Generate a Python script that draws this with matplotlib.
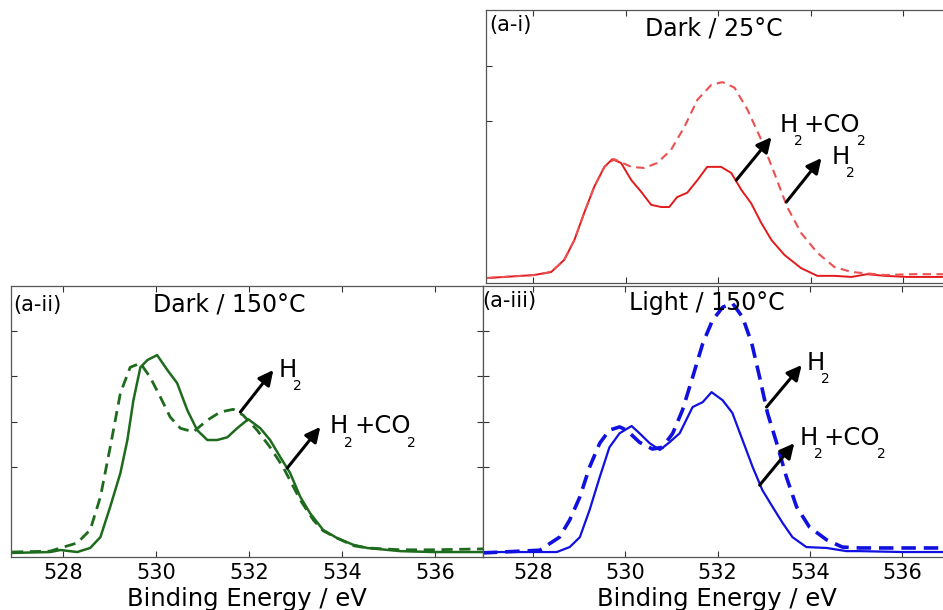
import matplotlib
matplotlib.use("Agg")
import matplotlib.pyplot as plt

plt.rcParams['font.family'] = ['DejaVu Sans']

# ---------------- data ----------------
# (a-i) Dark / 25 C  -- red
ai_h2co2_E = [527.0, 528.02, 528.39, 528.67, 528.89, 529.10, 529.32, 529.54, 529.71, 529.90, 530.12,
              530.34, 530.55, 530.77, 530.94, 531.11, 531.33, 531.55, 531.76, 532.06, 532.28, 532.50,
              532.71, 532.93, 533.15, 533.43, 533.79, 534.14, 534.51, 534.88, 535.22, 535.59, 536.09, 537.0]
ai_h2co2_I = [0.09, 0.145, 0.20, 0.42, 0.78, 1.27, 1.75, 2.11, 2.25, 2.18, 1.87,
              1.65, 1.42, 1.38, 1.38, 1.56, 1.64, 1.87, 2.11, 2.11, 2.00, 1.69,
              1.45, 1.09, 0.78, 0.51, 0.27, 0.13, 0.13, 0.11, 0.16, 0.13, 0.11, 0.11]
ai_h2_E = [527.0, 528.02, 528.39, 528.67, 528.89, 529.10, 529.32, 529.54, 529.75, 530.12, 530.40,
           530.68, 530.98, 531.27, 531.55, 531.85, 532.09, 532.35, 532.63, 532.93, 533.21, 533.49,
           533.79, 534.14, 534.51, 534.88, 535.59, 536.2, 537.0]
ai_h2_I = [0.09, 0.145, 0.20, 0.42, 0.78, 1.27, 1.75, 2.11, 2.25, 2.11, 2.09,
           2.18, 2.42, 2.84, 3.33, 3.60, 3.65, 3.55, 3.15, 2.60, 2.00, 1.38,
           0.91, 0.55, 0.29, 0.20, 0.145, 0.16, 0.16]

# (a-ii) Dark / 150 C  -- green
aii_h2co2_E = [526.9, 527.72, 527.94, 528.30, 528.58, 528.80, 529.01, 529.23, 529.38, 529.51, 529.66,
               529.81, 530.02, 530.24, 530.45, 530.67, 530.88, 531.10, 531.31, 531.53, 531.74, 531.98,
               532.24, 532.45, 532.67, 532.88, 533.10, 533.31, 533.59, 533.89, 534.24, 534.54, 535.25,
               535.96, 537.03]
aii_h2co2_I = [0.09, 0.11, 0.155, 0.11, 0.20, 0.44, 1.11, 1.86, 2.59, 3.47, 4.20,
               4.36, 4.47, 4.14, 3.85, 3.25, 2.81, 2.59, 2.59, 2.65, 2.85, 3.05,
               2.85, 2.59, 2.21, 1.86, 1.33, 0.97, 0.60, 0.42, 0.27, 0.20, 0.13,
               0.11, 0.11]
aii_h2_E = [526.9, 527.72, 527.94, 528.30, 528.58, 528.80, 529.01, 529.23, 529.44, 529.66, 529.87,
            530.09, 530.30, 530.52, 530.80, 531.10, 531.38, 531.66, 531.87, 532.17, 532.45, 532.73,
            533.10, 533.38, 533.59, 533.89, 534.24, 534.54, 535.25, 535.96, 537.03]
aii_h2_I = [0.11, 0.13, 0.20, 0.31, 0.60, 1.33, 2.43, 3.63, 4.20, 4.29, 3.98,
            3.54, 3.10, 2.85, 2.77, 3.03, 3.21, 3.27, 3.14, 2.81, 2.43, 1.99,
            1.26, 0.82, 0.58, 0.42, 0.25, 0.20, 0.16, 0.16, 0.18]

# (a-iii) Light / 150 C  -- blue
aiii_h2co2_E = [526.92, 528.22, 528.52, 528.80, 529.02, 529.23, 529.45, 529.66, 529.88, 530.14, 530.31,
                530.53, 530.75, 530.96, 531.18, 531.46, 531.68, 531.87, 532.11, 532.32, 532.54, 532.76,
                532.97, 533.19, 533.41, 533.62, 533.92, 534.36, 534.79, 535.07, 536.0, 537.03]
aiii_h2co2_I = [0.11, 0.11, 0.11, 0.22, 0.44, 1.04, 1.77, 2.43, 2.74, 2.90, 2.74,
                2.52, 2.37, 2.54, 2.74, 3.32, 3.43, 3.65, 3.47, 3.19, 2.59, 1.99,
                1.48, 1.11, 0.75, 0.44, 0.22, 0.20, 0.13, 0.13, 0.11, 0.11]
aiii_h2_E = [526.92, 528.15, 528.58, 528.80, 529.02, 529.23, 529.45, 529.66, 529.88, 530.03, 530.31,
             530.59, 530.81, 531.03, 531.24, 531.46, 531.68, 531.89, 532.11, 532.32, 532.54, 532.74,
             532.91, 533.08, 533.28, 533.49, 533.71, 533.99, 534.36, 534.70, 535.07, 536.0, 537.03]
aiii_h2_I = [0.09, 0.15, 0.44, 0.82, 1.33, 1.99, 2.52, 2.81, 2.88, 2.81, 2.54,
             2.39, 2.43, 2.74, 3.25, 3.98, 4.73, 5.24, 5.53, 5.62, 5.31, 4.73,
             3.98, 3.19, 2.52, 1.77, 1.11, 0.66, 0.38, 0.22, 0.20, 0.20, 0.20]

x_ticks = [528, 530, 532, 534, 536]
x_label = "Binding Energy / eV"
panel_tags = ["(a-i)", "(a-ii)", "(a-iii)"]
panel_titles = ["Dark / 25°C", "Dark / 150°C", "Light / 150°C"]
lab_h2 = [("H", False), ("2", True)]
lab_h2co2 = [("H", False), ("2", True), ("+CO", False), ("2", True)]

# ---------------- figure ----------------
W, H = 943, 610
fig = plt.figure(figsize=(W / 100, H / 100), dpi=100)
renderer = fig.canvas.get_renderer()


def px_axes(left, top, right, bottom):
    return fig.add_axes([left / W, 1 - bottom / H, (right - left) / W, (bottom - top) / H])


def style(ax, xlim, ylim, yticks, labels):
    ax.set_xlim(*xlim)
    ax.set_ylim(*ylim)
    ax.set_xticks(x_ticks)
    ax.set_yticks(yticks)
    ax.tick_params(direction='in', length=4, width=0.8, top=True, right=True,
                   labelleft=False, labelsize=15, pad=4, color='#333333')
    if not labels:
        ax.tick_params(labelbottom=False)
    else:
        ax.set_xlabel(x_label, fontsize=17.5, labelpad=3)
    for s in ax.spines.values():
        s.set_color('#555555')
        s.set_linewidth(0.9)


def arrow(ax, start, tip):
    ax.annotate('', xy=tip, xytext=start,
                arrowprops=dict(arrowstyle='-|>', color='black', lw=2.2,
                                mutation_scale=22, shrinkA=0, shrinkB=0))


def chem(ax, x, y, parts):
    dx = 0.0
    for s, sub in parts:
        fs = 10 if sub else 17.5
        dy = -9.6 if sub else 0.0
        t = ax.annotate(s, xy=(x, y), xycoords='data', xytext=(dx, dy),
                        textcoords='offset points', fontsize=fs,
                        ha='left', va='baseline', annotation_clip=False)
        w = t.get_window_extent(renderer).width * 72.0 / fig.dpi
        dx += w + (0.8 if sub else -2.6)


# (a-i)
ax1 = px_axes(486, 10, 951, 283)
ax1.plot(ai_h2co2_E, ai_h2co2_I, color='#e31a1c', lw=1.4)
ax1.plot(ai_h2_E, ai_h2_I, color='#ec5050', lw=1.5, dashes=(4, 2.6))
style(ax1, (526.98, 537.03), (0, 4.96), [2.95, 3.95], False)
arrow(ax1, (532.39, 1.87), (533.15, 2.65))
arrow(ax1, (533.47, 1.47), (534.23, 2.27))
chem(ax1, 533.32, 2.75, lab_h2co2)
chem(ax1, 534.44, 2.16, lab_h2)
ax1.text(531.91, 4.62, panel_titles[0], fontsize=17, ha='center', va='center')
ax1.text(0.006, 0.945, panel_tags[0], transform=ax1.transAxes, fontsize=15, ha='left', va='center')

# (a-ii)
ax2 = px_axes(10.7, 286, 483, 557)
ax2.plot(aii_h2co2_E, aii_h2co2_I, color='#1e6b1e', lw=1.8)
ax2.plot(aii_h2_E, aii_h2_I, color='#1e6b1e', lw=2.0, dashes=(4, 2.4))
style(ax2, (526.87, 537.03), (0, 6), [2, 3, 4, 5], True)
arrow(ax2, (531.81, 3.21), (532.52, 4.14))
arrow(ax2, (532.82, 1.97), (533.53, 2.88))
chem(ax2, 532.63, 3.99, lab_h2)
chem(ax2, 533.73, 2.74, lab_h2co2)
ax2.text(531.57, 5.58, panel_titles[1], fontsize=17, ha='center', va='center')
ax2.text(0.006, 0.93, panel_tags[1], transform=ax2.transAxes, fontsize=15, ha='left', va='center')

# (a-iii)
ax3 = px_axes(483.3, 286, 950, 557)
ax3.plot(aiii_h2co2_E, aiii_h2co2_I, color='#1010e0', lw=1.6)
ax3.plot(aiii_h2_E, aiii_h2_I, color='#1010e0', lw=2.6, dashes=(4, 2.2))
style(ax3, (526.93, 537.03), (0, 6), [2, 3, 4, 5], True)
arrow(ax3, (533.06, 3.32), (533.82, 4.25))
arrow(ax3, (532.91, 1.59), (533.66, 2.52))
chem(ax3, 533.92, 4.14, lab_h2)
chem(ax3, 533.77, 2.48, lab_h2co2)
ax3.text(531.76, 5.62, panel_titles[2], fontsize=17, ha='center', va='center')
ax3.text(-0.002, 0.945, panel_tags[2], transform=ax3.transAxes, fontsize=15, ha='left', va='center')

fig.savefig('out.png', dpi=100)
